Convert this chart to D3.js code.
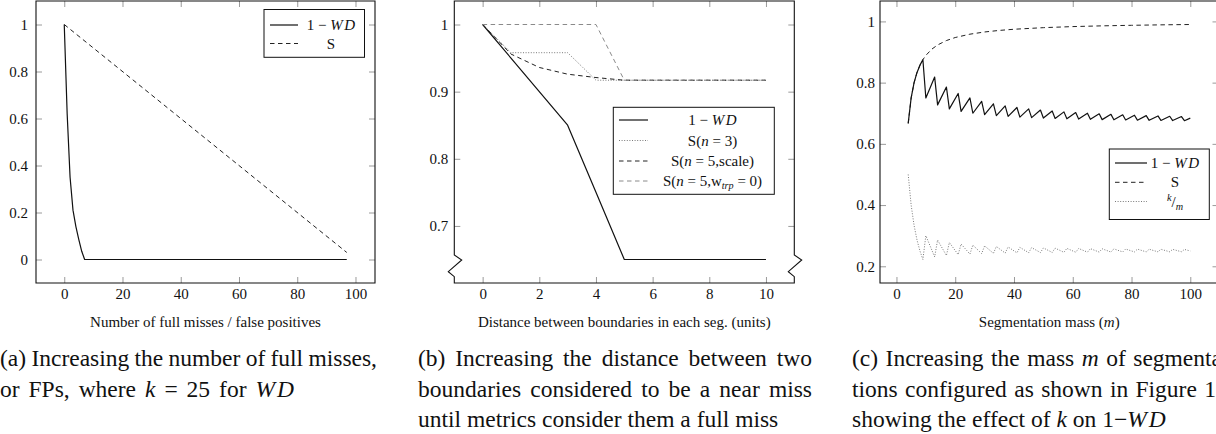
<!DOCTYPE html>
<html>
<head>
<meta charset="utf-8">
<script src="https://cdn.jsdelivr.net/npm/d3@7/dist/d3.min.js"></script>
<style>
  body { margin: 0; background: #fff; }
  svg { display: block; }
</style>
</head>
<body>
<div id="fig"></div>
<script>
// (a) full misses / false positives
const missesX  = [0, 1, 2, 3, 4, 5, 6, 7, 97];
const missesWD = [1, 0.62, 0.35, 0.21, 0.14, 0.085, 0.035, 0, 0];
const missesSX = [0, 97];
const missesS  = [1, 0.03];

// (b) distance between boundaries
const distX       = [0, 1, 2, 3, 4, 5, 6, 7, 8, 9, 10];
const distWD      = [1, 0.95, 0.9, 0.85, 0.75, 0.65, 0.65, 0.65, 0.65, 0.65, 0.65];
const distS3      = [1, 0.958, 0.958, 0.958, 0.917, 0.917, 0.917, 0.917, 0.917, 0.917, 0.917];
const distS5scale = [1, 0.956, 0.936, 0.926, 0.921, 0.917, 0.917, 0.917, 0.917, 0.917, 0.917];
const distS5w0    = [1, 1, 1, 1, 1, 0.917, 0.917, 0.917, 0.917, 0.917, 0.917];

// (c) segmentation mass
const massX  = [4, 5, 6, 7, 8, 9, 10, 13, 14, 17, 18, 21, 22, 25, 26, 29, 30, 33, 34, 37, 38, 41, 42, 45, 46,
                49, 50, 53, 54, 57, 58, 61, 62, 65, 66, 69, 70, 73, 74, 77, 78, 81, 82, 85, 86, 89, 90, 93, 94, 97, 98, 100];
const massWD = [0.6667, 0.75, 0.8, 0.8333, 0.8571, 0.875, 0.75, 0.8182, 0.7273, 0.7857, 0.7143, 0.7647, 0.7059,
                0.75, 0.7, 0.7391, 0.6957, 0.7308, 0.6923, 0.7241, 0.6897, 0.7188, 0.6875, 0.7143, 0.6857, 0.7105,
                0.6842, 0.7073, 0.6829, 0.7045, 0.6818, 0.7021, 0.6809, 0.7, 0.68, 0.6981, 0.6792, 0.6964, 0.6786,
                0.6949, 0.678, 0.6935, 0.6774, 0.6923, 0.6769, 0.6912, 0.6765, 0.6901, 0.6761, 0.6892, 0.6757, 0.6842];
const massKM = [0.5, 0.4, 0.3333, 0.2857, 0.25, 0.2222, 0.3, 0.2308, 0.2857, 0.2353, 0.2778, 0.2381, 0.2727,
                0.24, 0.2692, 0.2414, 0.2667, 0.2424, 0.2647, 0.2432, 0.2632, 0.2439, 0.2619, 0.2444, 0.2609, 0.2449,
                0.26, 0.2453, 0.2593, 0.2456, 0.2586, 0.2459, 0.2581, 0.2462, 0.2576, 0.2464, 0.2571, 0.2466, 0.2568,
                0.2468, 0.2564, 0.2469, 0.2561, 0.2471, 0.2558, 0.2472, 0.2556, 0.2473, 0.2553, 0.2474, 0.2551, 0.25];
const massSX = [4, 5, 6, 7, 8, 9, 10, 12, 14, 17, 20, 25, 30, 35, 40, 50, 60, 70, 80, 90, 100];
const massS  = [0.6667, 0.75, 0.8, 0.8333, 0.8571, 0.875, 0.8889, 0.9091, 0.9231, 0.9375, 0.9474, 0.9583,
                0.9655, 0.9706, 0.9744, 0.9796, 0.9831, 0.9855, 0.9873, 0.9888, 0.9899];

// tick labels
const ticksA_x = [0, 20, 40, 60, 80, 100];
const ticksA_y = [0, 0.2, 0.4, 0.6, 0.8, 1];
const ticksB_x = [0, 2, 4, 6, 8, 10];
const ticksB_y = [0.7, 0.8, 0.9, 1];
const ticksC_x = [0, 20, 40, 60, 80, 100];
const ticksC_y = [0.2, 0.4, 0.6, 0.8, 1];

const FONT = '"Liberation Serif", "Times New Roman", serif';
const INK = "#111";

const svg = d3.select("#fig").append("svg")
  .attr("width", 1216)
  .attr("height", 434);

const styles = {
  solid:    { stroke: "#111", width: 1.2, dash: null },
  dashed:   { stroke: "#222", width: 1, dash: "4.5,3.5" },
  dotted:   { stroke: "#6a6a6a", width: 0.9, dash: "1,1.6" },
  grayDash: { stroke: "#8a8a8a", width: 1, dash: "4.5,3.5" }
};

function drawLine(g, x, y, xs, ys, style) {
  const line = d3.line()
    .x(d => x(d[0]))
    .y(d => y(d[1]));
  g.append("path")
    .datum(d3.zip(xs, ys))
    .attr("d", line)
    .attr("fill", "none")
    .attr("stroke", style.stroke)
    .attr("stroke-width", style.width)
    .attr("stroke-dasharray", style.dash)
    .attr("stroke-linejoin", "round");
}

// parts: [text, italic?, "sup"|"sub", dx]
function richText(sel, parts, size) {
  let shift = 0;
  parts.forEach(p => {
    const t = sel.append("tspan").text(p[0]);
    if (p[1]) t.attr("font-style", "italic");
    let target = 0;
    if (p[2] === "sup") { target = -size * 0.38; t.attr("font-size", size * 0.68); }
    if (p[2] === "sub") { target = size * 0.22; t.attr("font-size", size * 0.68); }
    if (target !== shift) { t.attr("dy", target - shift); shift = target; }
    if (p[3]) t.attr("dx", p[3]);
  });
  return sel;
}

function drawText(x, y, parts, size, anchor = "start") {
  const t = svg.append("text")
    .attr("x", x)
    .attr("y", y)
    .style("font-family", FONT)
    .attr("font-size", size)
    .attr("fill", INK)
    .attr("text-anchor", anchor)
    .style("white-space", "pre");
  return richText(t, parts, size);
}

// stretch the spaces so the line ends at xEnd (justified caption lines)
function justify(t, x0, xEnd) {
  const natural = t.node().getComputedTextLength();
  const spaces = (t.text().match(/ /g) || []).length;
  if (spaces > 0) t.attr("word-spacing", (xEnd - x0 - natural) / spaces);
}

function drawPanel(cfg) {
  const g = svg.append("g");
  const x = d3.scaleLinear().domain(cfg.xDomain).range([cfg.left, cfg.right]);
  const y = d3.scaleLinear().domain(cfg.yDomain).range([cfg.bottom, cfg.top]);

  const axes = [
    g.append("g").attr("transform", `translate(0,${cfg.bottom})`)
      .call(d3.axisBottom(x).tickValues(cfg.xTicks).tickSizeInner(-6).tickSizeOuter(0).tickPadding(5).tickFormat(d => d)),
    g.append("g").attr("transform", `translate(0,${cfg.top})`)
      .call(d3.axisTop(x).tickValues(cfg.xTicks).tickSizeInner(-6).tickSizeOuter(0).tickFormat("")),
    g.append("g").attr("transform", `translate(${cfg.left},0)`)
      .call(d3.axisLeft(y).tickValues(cfg.yTicks).tickSizeInner(-6).tickSizeOuter(0).tickPadding(cfg.yPad).tickFormat(d => d)),
    g.append("g").attr("transform", `translate(${cfg.right},0)`)
      .call(d3.axisRight(y).tickValues(cfg.yTicks).tickSizeInner(-6).tickSizeOuter(0).tickFormat(""))
  ];
  axes.forEach(a => {
    a.attr("font-family", null);
    a.select(".domain").remove();
    a.selectAll(".tick line").attr("stroke", "#9a9a9a").attr("stroke-width", 1);
    a.selectAll("text").style("font-family", FONT).attr("font-size", 15).attr("fill", INK);
  });

  // frame, with the y-axis crunch zigzag when needed
  const p = d3.path();
  const L = cfg.left, R = cfg.right, T = cfg.top, B = cfg.bottom;
  p.moveTo(L, T);
  p.lineTo(R, T);
  if (cfg.crunch) {
    p.lineTo(R, 255); p.lineTo(R + 7.4, 260); p.lineTo(R - 6, 271.7); p.lineTo(R, 276.7);
  }
  p.lineTo(R, B);
  p.lineTo(L, B);
  if (cfg.crunch) {
    p.lineTo(L, 276.7); p.lineTo(L - 6, 271.7); p.lineTo(L + 7.4, 260); p.lineTo(L, 255);
  }
  p.closePath();
  g.append("path").attr("d", p.toString())
    .attr("fill", "none").attr("stroke", "#111").attr("stroke-width", 1.1);

  cfg.series.forEach(s => drawLine(g, x, y, s.xs, s.ys, s.style));

  // legend
  const lg = cfg.legend;
  g.append("rect")
    .attr("x", lg.box[0]).attr("y", lg.box[1])
    .attr("width", lg.box[2] - lg.box[0]).attr("height", lg.box[3] - lg.box[1])
    .attr("fill", "#fff").attr("stroke", "#111").attr("stroke-width", 1);
  lg.rows.forEach((r, i) => {
    const st = cfg.series[r.series].style;
    g.append("line")
      .attr("x1", lg.sample[0]).attr("x2", lg.sample[1])
      .attr("y1", lg.baselines[i] - 5).attr("y2", lg.baselines[i] - 5)
      .attr("stroke", st.stroke).attr("stroke-width", st.width)
      .attr("stroke-dasharray", st.dash);
    drawText(lg.textX, lg.baselines[i], r.label, 15, "middle");
  });

  drawText((L + R) / 2, 327, cfg.xLabel, 15, "middle");
}

const oneMinusWD = [["1 \u2212 "], ["W", true], ["D", true, null, 1.5]];

drawPanel({
  left: 36, right: 375, top: 1, bottom: 283,
  xDomain: [-9.7, 106.7], yDomain: [-0.1, 1.1],
  xTicks: ticksA_x, yTicks: ticksA_y, yPad: 8,
  series: [
    { xs: missesSX, ys: missesS, style: styles.dashed },
    { xs: missesX, ys: missesWD, style: styles.solid }
  ],
  legend: {
    box: [264, 9.5, 364.5, 57.3], sample: [270, 298], textX: 331, baselines: [30, 48.5],
    rows: [{ series: 1, label: oneMinusWD }, { series: 0, label: [["S"]] }]
  },
  xLabel: [["Number of full misses / false positives"]]
});

drawPanel({
  left: 454.3, right: 794.3, top: 1, bottom: 283,
  xDomain: [-1, 11], yDomain: [0.615, 1.035],
  xTicks: ticksB_x, yTicks: ticksB_y, yPad: 6, crunch: true,
  series: [
    { xs: distX, ys: distWD, style: styles.solid },
    { xs: distX, ys: distS3, style: styles.dotted },
    { xs: distX, ys: distS5scale, style: styles.dashed },
    { xs: distX, ys: distS5w0, style: styles.grayDash }
  ],
  legend: {
    box: [613.3, 107.3, 774.3, 194.3], sample: [619, 648], textX: 712.5, baselines: [125, 145.5, 166, 186],
    rows: [
      { series: 0, label: oneMinusWD },
      { series: 1, label: [["S("], ["n", true], [" = 3)"]] },
      { series: 2, label: [["S("], ["n", true], [" = 5,scale)"]] },
      { series: 3, label: [["S("], ["n", true], [" = 5,w"], ["trp", true, "sub"], [" = 0)"]] }
    ]
  },
  xLabel: [["Distance between boundaries in each seg. (units)"]]
});

drawPanel({
  left: 880, right: 1218.5, top: 1, bottom: 283,
  xDomain: [-5.6, 109.6], yDomain: [0.1454, 1.0667],
  xTicks: ticksC_x, yTicks: ticksC_y, yPad: 5,
  series: [
    { xs: massSX, ys: massS, style: styles.dashed },
    { xs: massX, ys: massWD, style: styles.solid },
    { xs: massX, ys: massKM, style: styles.dotted }
  ],
  legend: {
    box: [1109.3, 149, 1209.3, 219.5], sample: [1115, 1147], textX: 1175, baselines: [168, 187.3, 206.5],
    rows: [
      { series: 1, label: oneMinusWD },
      { series: 0, label: [["S"]] },
      { series: 2, label: [["k", true, "sup"], ["/"], ["m", true, "sub"]] }
    ]
  },
  xLabel: [["Segmentation mass ("], ["m", true], [")"]]
});

// captions
const CAP = 23.5;
const capLines = [
  { x: 0,   y: 366, end: 377,  parts: [["(a) Increasing the number of full misses,"]] },
  { x: 0,   y: 397, end: 292,  parts: [["or FPs, where "], ["k", true], [" = 25 for "], ["W", true], ["D", true, null, 2]] },
  { x: 418, y: 366, end: 812,  parts: [["(b) Increasing the distance between two"]] },
  { x: 418, y: 397, end: 812,  parts: [["boundaries considered to be a near miss"]] },
  { x: 418, y: 427, end: null, parts: [["until metrics consider them a full miss"]] },
  { x: 852, y: 366, end: 1222, parts: [["(c) Increasing the mass "], ["m", true], [" of segmenta"]] },
  { x: 852, y: 397, end: 1216, parts: [["tions configured as shown in Figure 1"]] },
  { x: 852, y: 427, end: null, parts: [["showing the effect of "], ["k", true], [" on 1\u2212"], ["W", true], ["D", true, null, 2]] }
];
capLines.forEach(c => {
  const t = drawText(c.x, c.y, c.parts, CAP);
  if (c.end) justify(t, c.x, c.end);
});
</script>
</body>
</html>
